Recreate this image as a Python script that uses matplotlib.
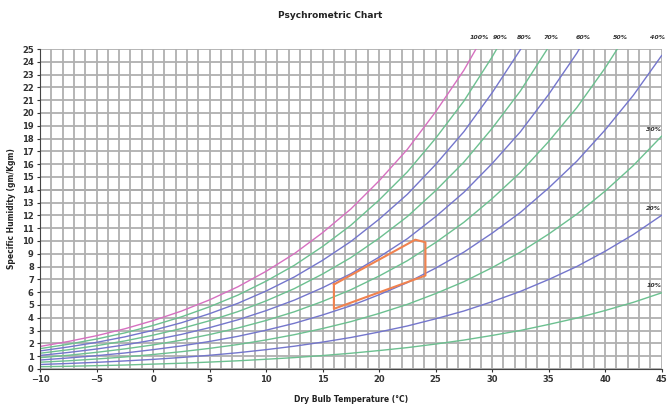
import matplotlib
matplotlib.use("Agg")
import matplotlib.pyplot as plt
import numpy as np

# dry bulb temperatures (deg C) at which the curves were read
temps = [-10, -7.5, -5, -2.5, 0, 2.5, 5, 7.5, 10, 12.5, 15, 17.5, 20,
         22.5, 25, 27.5, 30, 32.5, 35, 37.5, 40, 42.5, 45]

# specific humidity (g/kg) for each relative humidity curve
rh100 = [1.76, 2.15, 2.60, 3.14, 3.78, 4.52, 5.40, 6.42, 7.63, 9.01, 10.65,
         12.50, 14.70, 17.16, 20.09, 23.34, 27.21]
rh90 = [1.59, 1.93, 2.34, 2.82, 3.40, 4.07, 4.86, 5.77, 6.86, 8.10, 9.57,
        11.23, 13.20, 15.40, 18.02, 20.93, 24.38, 28.21]
rh80 = [1.41, 1.72, 2.08, 2.51, 3.02, 3.61, 4.32, 5.13, 6.09, 7.19, 8.49,
        9.96, 11.70, 13.65, 15.97, 18.54, 21.58, 24.95, 28.93]
rh70 = [1.23, 1.50, 1.82, 2.19, 2.64, 3.16, 3.77, 4.48, 5.32, 6.28, 7.42,
        8.70, 10.22, 11.91, 13.93, 16.16, 18.80, 21.72, 25.16]
rh60 = [1.06, 1.29, 1.56, 1.88, 2.26, 2.70, 3.23, 3.84, 4.56, 5.38, 6.35,
        7.44, 8.74, 10.18, 11.90, 13.80, 16.05, 18.53, 21.45, 24.68, 28.44]
rh50 = [0.88, 1.07, 1.30, 1.57, 1.88, 2.25, 2.69, 3.20, 3.79, 4.47, 5.28,
        6.19, 7.26, 8.46, 9.88, 11.46, 13.31, 15.36, 17.77, 20.43, 23.52, 26.96]
rh40 = [0.70, 0.86, 1.04, 1.25, 1.51, 1.80, 2.15, 2.55, 3.03, 3.57, 4.22,
        4.94, 5.80, 6.75, 7.88, 9.13, 10.61, 12.23, 14.14, 16.24, 18.68, 21.39, 24.49]
rh30 = [0.53, 0.64, 0.78, 0.94, 1.13, 1.35, 1.61, 1.91, 2.27, 2.68, 3.16,
        3.70, 4.34, 5.05, 5.89, 6.82, 7.92, 9.13, 10.54, 12.10, 13.90, 15.90, 18.19]
rh20 = [0.35, 0.43, 0.52, 0.63, 0.75, 0.90, 1.07, 1.27, 1.51, 1.78, 2.10,
        2.46, 2.89, 3.36, 3.92, 4.53, 5.26, 6.06, 6.99, 8.01, 9.20, 10.51, 12.01]
rh10 = [0.18, 0.21, 0.26, 0.31, 0.38, 0.45, 0.54, 0.64, 0.76, 0.89, 1.05,
        1.23, 1.44, 1.67, 1.95, 2.26, 2.62, 3.01, 3.48, 3.98, 4.57, 5.21, 5.95]

curves = [rh100, rh90, rh80, rh70, rh60, rh50, rh40, rh30, rh20, rh10]
curve_labels = ["100%", "90%", "80%", "70%", "60%", "50%", "40%", "30%", "20%", "10%"]
curve_colors = ["#d670c0", "#6cc090", "#7476cc", "#6cc090", "#7476cc",
                "#6cc090", "#7476cc", "#6cc090", "#7476cc", "#6cc090"]

# comfort zone outline
zone_t = [16.0, 23.2, 24.1, 24.1, 16.0, 16.0]
zone_w = [6.6, 10.1, 9.9, 7.3, 4.7, 6.6]

fig = plt.figure(figsize=(6.67, 4.07), dpi=100)
ax = fig.add_axes([0.060, 0.0934, 0.932, 0.7862])

ax.set_xlim(-10, 45)
ax.set_ylim(0, 25)
ax.set_xticks(np.arange(-10, 46, 5))
ax.set_xticks(np.arange(-10, 46, 1), minor=True)
ax.set_yticks(np.arange(0, 26, 1))
ax.grid(True, which="both", color="#b0b0b0", linewidth=1.3, zorder=0)
ax.axhline(14, color="#808080", linewidth=1.3, zorder=0.5)
ax.set_axisbelow(True)

for w, lab, col in zip(curves, curve_labels, curve_colors):
    t = temps[:len(w)]
    ax.plot(t, w, color=col, linewidth=1.0, zorder=2)
    if w[-1] > 24:
        # label above the top edge where the curve leaves the plot
        tx = min(np.interp(25, w, t) + 0.3, 44.6)
        ax.text(tx, 25.9, lab, fontsize=4.5, style="italic", fontweight="bold",
                ha="center", va="center", color="#333333", clip_on=False)
    else:
        ax.text(44.3, w[-1] + 0.55, lab, fontsize=4.5, style="italic",
                fontweight="bold", ha="center", va="center", color="#333333",
                clip_on=False)

ax.plot(zone_t, zone_w, color="#f0824f", linewidth=1.5, zorder=3)

for side in ["top", "right"]:
    ax.spines[side].set_visible(False)
ax.spines["left"].set_color("#444444")
ax.spines["bottom"].set_color("#444444")
ax.tick_params(axis="both", which="major", labelsize=6, length=2.5,
               colors="#333333", pad=2)
ax.tick_params(axis="x", which="minor", length=0)
for lbl in ax.get_xticklabels() + ax.get_yticklabels():
    lbl.set_fontweight("bold")

ax.set_xlabel("Dry Bulb Temperature (°C)", fontsize=5.5, fontweight="bold",
              labelpad=8, color="#222222")
ax.set_ylabel("Specific Humidity (gm/Kgm)", fontsize=5.5, fontweight="bold",
              labelpad=4, color="#222222")
fig.text(0.495, 0.962, "Psychrometric Chart", fontsize=6.5, fontweight="bold",
         ha="center", va="center", color="#222222")

fig.savefig("out.png", dpi=100)
